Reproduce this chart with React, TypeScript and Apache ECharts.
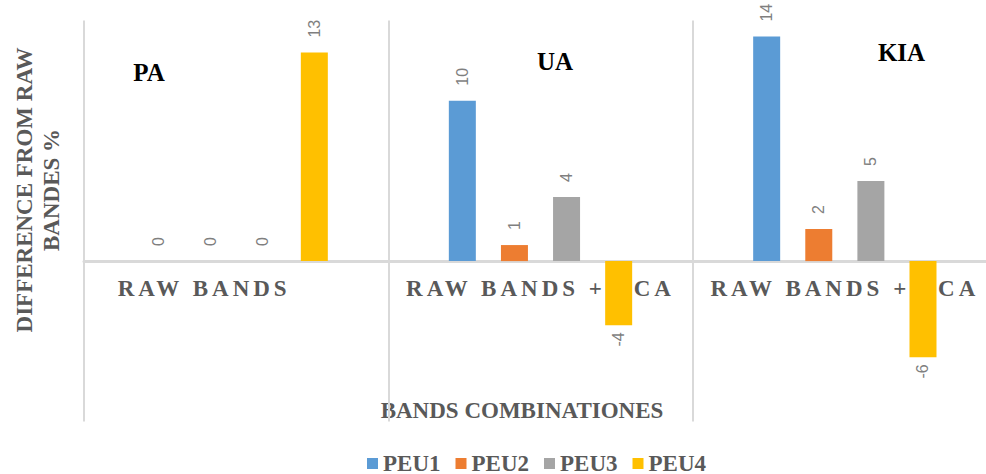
import React, { useEffect, useRef } from "react";
import * as echarts from "echarts";

// Categories along the x axis
const categories = ["RAW BANDS", "RAW BANDS + PCA", "RAW BANDS + PCA"];

// Series (difference from raw bands, %)
const seriesNames = ["PEU1", "PEU2", "PEU3", "PEU4"];
const peu1 = [0, 10, 14];
const peu2 = [0, 1, 2];
const peu3 = [0, 4, 5];
const peu4 = [13, -4, -6];
const seriesValues = [peu1, peu2, peu3, peu4];

// Value axis range
const yMin = -10;
const yMax = 15;

// Panel captions, one per category
const panelTitles = ["PA", "UA", "KIA"];

const colors = ["#5B9BD5", "#ED7D31", "#A5A5A5", "#FFC000"];
const SERIF = "'Liberation Serif', serif";
const SERIF_TRACKED = "'Times New Roman', 'Liberation Serif', serif";
const GREY = "#595959";

const GRID_TOP = 20.5;
const GRID_HEIGHT = 401;

export default function App() {
  const ref = useRef<HTMLDivElement>(null);

  useEffect(() => {
    if (!ref.current) return;
    const chart = echarts.init(ref.current, undefined, { renderer: "svg" });

    const series = seriesNames.map((name, i) => ({
      name,
      type: "bar",
      barWidth: 27,
      barGap: "93%",
      itemStyle: { color: colors[i] },
      label: {
        show: true,
        position: "top",
        rotate: 90,
        align: "left",
        verticalAlign: "middle",
        distance: 15,
        fontFamily: "'Liberation Sans', sans-serif",
        fontSize: 16,
        color: "#7F7F7F",
      },
      data: seriesValues[i].map((v) =>
        v < 0
          ? { value: v, label: { position: "bottom", align: "right", distance: 7 } }
          : { value: v }
      ),
    }));

    const titlePos = [
      [149, 72],
      [555, 61.5],
      [901.5, 52.5],
    ];

    // lift the category axis from the grid bottom up to the zero line
    const zeroOffset = -((0 - yMin) / (yMax - yMin)) * GRID_HEIGHT;

    chart.setOption({
      animation: false,
      backgroundColor: "#FFFFFF",
      grid: { left: 84, top: GRID_TOP, width: 913, height: GRID_HEIGHT, containLabel: false },
      legend: {
        data: seriesNames,
        left: 367,
        top: 452,
        padding: 0,
        icon: "rect",
        itemWidth: 11,
        itemHeight: 11,
        itemGap: 15,
        textStyle: {
          fontFamily: SERIF,
          fontWeight: "bold",
          fontSize: 23,
          color: GREY,
        },
      },
      xAxis: {
        type: "category",
        data: categories.map((c, i) =>
          i === 0 ? { value: c, textStyle: { padding: [0, 64, 0, 0] } } : c
        ),
        offset: zeroOffset,
        axisLine: { onZero: false, lineStyle: { color: "#D9D9D9", width: 3 } },
        axisTick: { show: false },
        splitLine: { show: true, lineStyle: { color: "#D9D9D9", width: 2 } },
        axisLabel: {
          interval: 0,
          margin: 16,
          fontFamily: SERIF_TRACKED,
          fontWeight: "bold",
          fontSize: 23,
          color: GREY,
        },
      },
      yAxis: {
        type: "value",
        min: yMin,
        max: yMax,
        axisLine: { show: false },
        axisTick: { show: false },
        axisLabel: { show: false },
        splitLine: { show: false },
      },
      graphic: [
        ...panelTitles.map((t, i) => ({
          type: "text",
          x: titlePos[i][0],
          y: titlePos[i][1],
          style: {
            text: t,
            fontFamily: SERIF,
            fontWeight: "bold",
            fontSize: 25,
            fill: "#000000",
            textAlign: "center",
            textVerticalAlign: "middle",
          },
        })),
        {
          type: "text",
          x: 38,
          y: 190,
          rotation: Math.PI / 2,
          style: {
            text: "DIFFERENCE FROM RAW\nBANDES %",
            fontFamily: SERIF,
            fontWeight: "bold",
            fontSize: 23,
            lineHeight: 27,
            fill: GREY,
            textAlign: "center",
            textVerticalAlign: "middle",
          },
        },
        {
          type: "text",
          x: 522,
          y: 410.5,
          style: {
            text: "BANDS COMBINATIONES",
            fontFamily: SERIF,
            fontWeight: "bold",
            fontSize: 23,
            fill: GREY,
            textAlign: "center",
            textVerticalAlign: "middle",
          },
        },
      ],
      series,
    });

    return () => chart.dispose();
  }, []);

  return (
    <>
      <style>{`#peu-chart text[style*="Times New Roman"]{letter-spacing:4px}`}</style>
      <div
        style={{
          position: "fixed",
          left: 0,
          top: 0,
          width: 986,
          height: 474,
          overflow: "hidden",
          background: "#FFFFFF",
        }}
      >
        <div id="peu-chart" ref={ref} style={{ width: 1000, height: 474 }} />
      </div>
    </>
  );
}
